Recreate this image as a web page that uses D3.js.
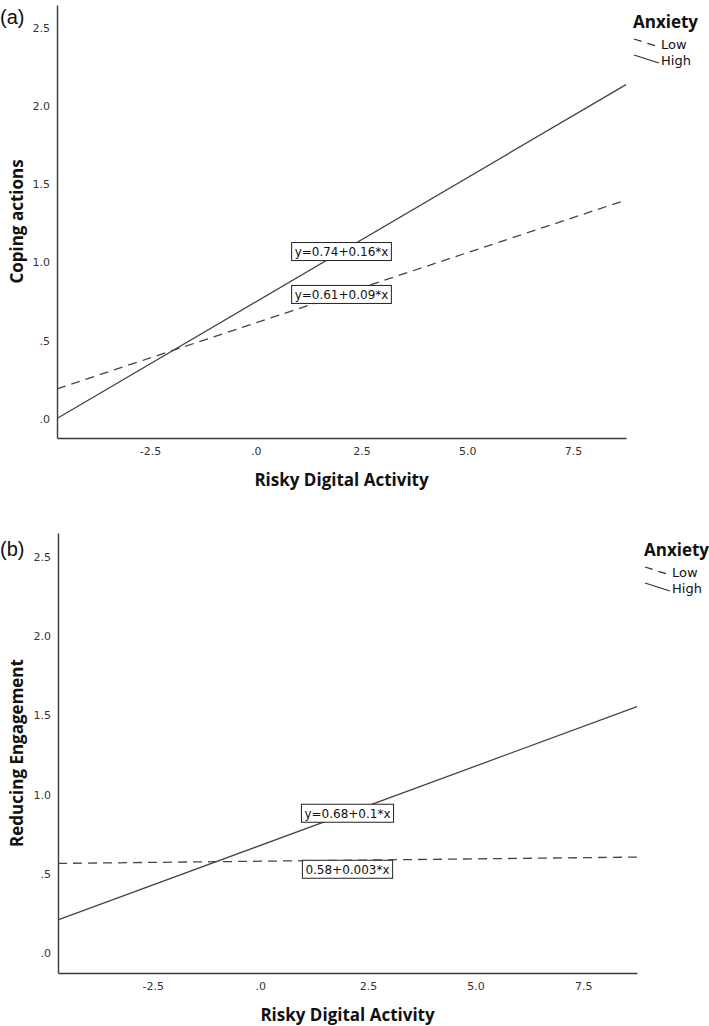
<!DOCTYPE html>
<html>
<head>
<meta charset="utf-8">
<script src="https://cdn.jsdelivr.net/npm/d3@7/dist/d3.min.js"></script>
<style>
  html, body { margin: 0; padding: 0; background: #fff; }
  svg { display: block; }
</style>
</head>
<body>
<svg id="chart" width="709" height="1026"></svg>
<script>
// ---------- data ----------
const xDomain = [-4.7, 8.75];
const yDomain = [-0.125, 2.65];
const xTicks = [-2.5, 0, 2.5, 5, 7.5];
const xTickLabels = ["-2.5", ".0", "2.5", "5.0", "7.5"];
const yTicks = [0, 0.5, 1, 1.5, 2, 2.5];
const yTickLabels = [".0", ".5", "1.0", "1.5", "2.0", "2.5"];
const groups = ["Low", "High"];
const legendTitle = "Anxiety";
const xTitle = "Risky Digital Activity";

// fitted line end points [x, y]
const copingLow  = [[-4.7, 0.19], [8.75, 1.40]];
const copingHigh = [[-4.7, 0.0],  [8.75, 2.14]];
const reducingLow  = [[-4.7, 0.566], [8.75, 0.606]];
const reducingHigh = [[-4.7, 0.21],  [8.75, 1.555]];

const copingEquations   = ["y=0.61+0.09*x", "y=0.74+0.16*x"];
const reducingEquations = ["0.58+0.003*x", "y=0.68+0.1*x"];

// ---------- layout ----------
const panels = [
  { tag: "(a)", yTitle: "Coping actions", lines: [copingLow, copingHigh], eqs: copingEquations,
    left: 57, right: 626, top: 5, bottom: 438, tagY: 24, eqDy: [0, 0] },
  { tag: "(b)", yTitle: "Reducing Engagement", lines: [reducingLow, reducingHigh], eqs: reducingEquations,
    left: 58, right: 637, top: 533, bottom: 973, tagY: 556, eqDy: [9, 0] }
];

const ink = "#3a3a3a";
const svg = d3.select("#chart");
const dashes = ["9,6", null];

panels.forEach(p => {
  const g = svg.append("g");
  const x = d3.scaleLinear().domain(xDomain).range([p.left, p.right]);
  const y = d3.scaleLinear().domain(yDomain).range([p.bottom, p.top]);

  // panel tag
  g.append("text").attr("x", 0).attr("y", p.tagY)
    .attr("font-family", "Liberation Sans, Arial, sans-serif").attr("font-size", 20)
    .attr("fill", "#111").text(p.tag);

  // axes
  const xAxis = d3.axisBottom(x).tickValues(xTicks)
    .tickFormat((d, i) => xTickLabels[i]).tickSize(0).tickPadding(9);
  const yAxis = d3.axisLeft(y).tickValues(yTicks)
    .tickFormat((d, i) => yTickLabels[i]).tickSize(0).tickPadding(7);

  const gx = g.append("g").attr("transform", `translate(0,${p.bottom})`).call(xAxis);
  const gy = g.append("g").attr("transform", `translate(${p.left},0)`).call(yAxis);
  [gx, gy].forEach(a => {
    a.select(".domain").attr("stroke", ink).attr("stroke-width", 1.4);
    a.selectAll("text").attr("font-family", "DejaVu Sans, sans-serif")
      .attr("font-size", 11).attr("fill", "#333");
  });

  // axis titles
  g.append("text")
    .attr("x", (p.left + p.right) / 2).attr("y", p.bottom + 48)
    .attr("text-anchor", "middle")
    .attr("font-family", "Open Sans, sans-serif").attr("font-weight", "bold")
    .attr("font-size", 17).attr("fill", "#111").text(xTitle);
  g.append("text")
    .attr("transform", `translate(23,${(p.top + p.bottom) / 2}) rotate(-90)`)
    .attr("text-anchor", "middle")
    .attr("font-family", "Open Sans, sans-serif").attr("font-weight", "bold")
    .attr("font-size", 17).attr("fill", "#111").text(p.yTitle);

  // fit lines
  const line = d3.line().x(d => x(d[0])).y(d => y(d[1]));
  p.lines.forEach((pts, i) => {
    g.append("path").datum(pts).attr("d", line)
      .attr("fill", "none").attr("stroke", "#444").attr("stroke-width", 1.3)
      .attr("stroke-dasharray", dashes[i]);
  });

  // equation labels, centred on the line at the plot's middle x
  const midX = (xDomain[0] + xDomain[1]) / 2;
  p.lines.forEach((pts, i) => {
    const [a, b] = pts;
    const t = (midX - a[0]) / (b[0] - a[0]);
    const yv = a[1] + t * (b[1] - a[1]);
    const cx = x(midX), cy = y(yv) + p.eqDy[i];
    const lg = g.append("g");
    const txt = lg.append("text").attr("x", cx).attr("y", cy + 4.5)
      .attr("text-anchor", "middle")
      .attr("font-family", "DejaVu Sans, sans-serif").attr("font-size", 12)
      .attr("fill", "#111").text(p.eqs[i]);
    const bb = txt.node().getBBox();
    lg.insert("rect", "text")
      .attr("x", bb.x - 3).attr("y", cy - 9)
      .attr("width", bb.width + 6).attr("height", 18)
      .attr("fill", "#fff").attr("stroke", "#222").attr("stroke-width", 1);
  });

  // legend
  const lx = p.right + 8, ly = p.top;
  g.append("text").attr("x", lx - 1).attr("y", ly + 23)
    .attr("font-family", "Open Sans, sans-serif").attr("font-weight", "bold")
    .attr("font-size", 17).attr("fill", "#111").text(legendTitle);
  groups.forEach((name, i) => {
    const yy = ly + 34 + i * 16;
    g.append("line").attr("x1", lx).attr("y1", yy).attr("x2", lx + 25).attr("y2", yy + 8)
      .attr("stroke", "#333").attr("stroke-width", 1.3)
      .attr("stroke-dasharray", i === 0 ? "8,6" : null);
    g.append("text").attr("x", lx + 27).attr("y", yy + 10)
      .attr("font-family", "DejaVu Sans, sans-serif").attr("font-size", 13)
      .attr("fill", "#111").text(name);
  });
});
</script>
</body>
</html>
